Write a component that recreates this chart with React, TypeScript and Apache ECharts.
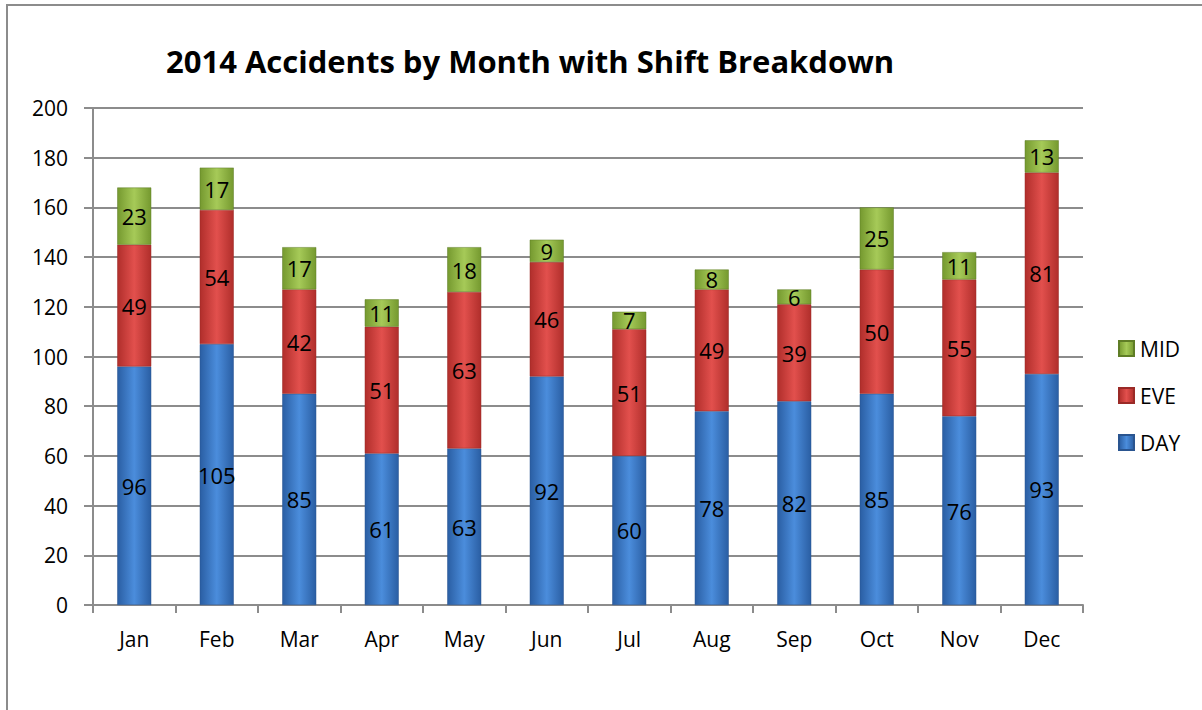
import React, { useEffect, useRef } from "react";
import * as echarts from "echarts";

const months = ["Jan", "Feb", "Mar", "Apr", "May", "Jun", "Jul", "Aug", "Sep", "Oct", "Nov", "Dec"];
const dayValues = [96, 105, 85, 61, 63, 92, 60, 78, 82, 85, 76, 93];
const eveValues = [49, 54, 42, 51, 63, 46, 51, 49, 39, 50, 55, 81];
const midValues = [23, 17, 17, 11, 18, 9, 7, 8, 6, 25, 11, 13];

const FONT = "'Open Sans', 'Liberation Sans', sans-serif";

function hGrad(edge: string, mid: string) {
  return new echarts.graphic.LinearGradient(0, 0, 1, 0, [
    { offset: 0, color: edge },
    { offset: 0.5, color: mid },
    { offset: 1, color: edge },
  ]);
}

export default function App() {
  const ref = useRef<HTMLDivElement>(null);
  useEffect(() => {
    if (!ref.current) return;
    const chart = echarts.init(ref.current, undefined, { renderer: "svg" });
    const label = {
      show: true,
      position: "inside" as const,
      color: "#000",
      fontSize: 22,
      fontFamily: FONT,
    };
    const barW = 34;
    chart.setOption({
      animation: false,
      backgroundColor: "#fff",
      title: {
        text: "2014 Accidents by Month with Shift Breakdown",
        left: 525,
        top: 40,
        textAlign: "center",
        textStyle: { fontSize: 31, fontWeight: "bold", color: "#000", fontFamily: FONT },
      },
      graphic: [
        {
          type: "rect",
          shape: { x: 7, y: 5, width: 1220, height: 740 },
          style: { fill: "none", stroke: "#8c8c8c", lineWidth: 2 },
          silent: true,
        },
      ],
      legend: {
        orient: "vertical",
        left: 1113,
        top: 333,
        itemWidth: 15,
        itemHeight: 15,
        itemGap: 26,
        icon: "rect",
        data: ["MID", "EVE", "DAY"],
        textStyle: { fontSize: 21, color: "#000", fontFamily: FONT, padding: [0, 0, 0, 1] },
      },
      grid: { left: 93, right: 119, top: 108, bottom: 105, containLabel: false },
      xAxis: {
        type: "category",
        data: months,
        axisLine: { lineStyle: { color: "#8c8c8c", width: 2 } },
        axisTick: { show: true, length: 8, lineStyle: { color: "#8c8c8c", width: 2 } },
        axisLabel: { fontSize: 21, color: "#000", fontFamily: FONT, margin: 23 },
      },
      yAxis: {
        type: "value",
        min: 0,
        max: 200,
        interval: 20,
        axisLine: { show: true, lineStyle: { color: "#8c8c8c", width: 2 } },
        axisTick: { show: true, length: 9, lineStyle: { color: "#8c8c8c", width: 2 } },
        axisLabel: { fontSize: 21, color: "#000", fontFamily: FONT, margin: 25 },
        splitLine: { lineStyle: { color: "#8c8c8c", width: 2 } },
      },
      series: [
        {
          name: "DAY",
          type: "bar",
          stack: "total",
          barWidth: barW,
          data: dayValues,
          label,
          itemStyle: { color: hGrad("#2a5ea3", "#4b8ddc"), borderColor: "#2a5590", borderWidth: 0.5 },
        },
        {
          name: "EVE",
          type: "bar",
          stack: "total",
          barWidth: barW,
          data: eveValues,
          label,
          itemStyle: { color: hGrad("#b02e2b", "#e2504d"), borderColor: "#9a2a27", borderWidth: 0.5 },
        },
        {
          name: "MID",
          type: "bar",
          stack: "total",
          barWidth: barW,
          data: midValues,
          label,
          itemStyle: { color: hGrad("#75992f", "#a6ca58"), borderColor: "#5f7d26", borderWidth: 0.5 },
        },
      ],
    });
    return () => chart.dispose();
  }, []);
  return (
    <div
      ref={ref}
      style={{ position: "absolute", left: 0, top: 0, width: 1202, height: 710 }}
    />
  );
}
